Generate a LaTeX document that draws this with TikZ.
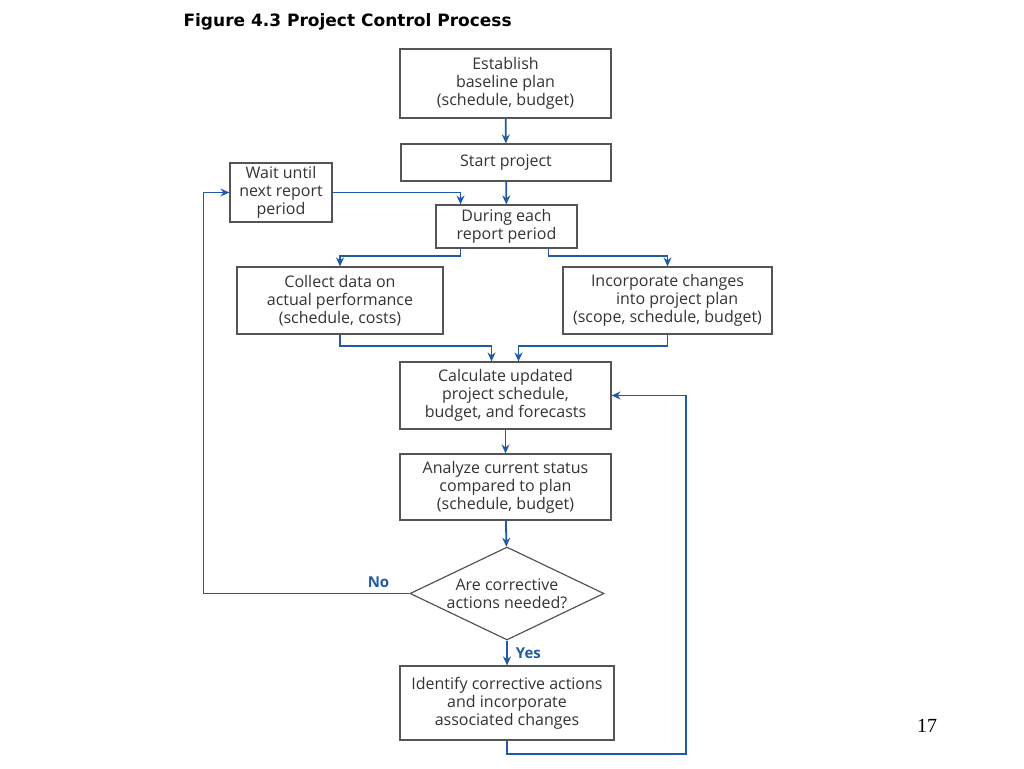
\documentclass[tikz,border=0pt]{standalone}
\usepackage{fontspec}
\setmainfont{Open Sans}
\newfontfamily\titlefont{DejaVu Sans}
\newfontfamily\numfont{Liberation Serif}
\usetikzlibrary{calc,shapes.geometric,arrows.meta}
\definecolor{flowblue}{HTML}{1F5AA6}
\definecolor{boxgray}{HTML}{555555}

\begin{document}
\begin{tikzpicture}[x=1pt, y=-1pt,
		box/.style={draw=boxgray, line width=1.2pt, rectangle, align=center, inner sep=0pt, text=black!80, font=\fontsize{16}{18}\selectfont},
		decision/.style={draw=boxgray, line width=1.2pt, diamond, aspect=2.09, align=center, inner sep=-10pt, text=black!80, font=\fontsize{16}{18}\selectfont},
		flow/.style={draw=flowblue, line width=1.8pt, -{Stealth[length=9pt, width=8pt]}},
		answer/.style={text=flowblue, font=\fontsize{15}{17}\selectfont\bfseries, inner sep=2pt}]
			%%%%% START %%%%%
			
			\useasboundingbox (0, 0) rectangle (1024, 768);
			
			\node[anchor=west] (title) at (180, 22) {\titlefont\fontsize{17}{20}\selectfont\bfseries Figure 4.3 Project Control Process};
			
			\node[box, minimum width=211, minimum height=69] (plan) at (505.5, 83.5) {Establish\\baseline plan\\(schedule, budget)};
			\node[box, minimum width=210, minimum height=37] (start) at (506, 162.5) {Start project};
			\node[box, minimum width=102, minimum height=59] (wait) at (281, 192.5) {Wait until\\next report\\period};
			\node[box, minimum width=141, minimum height=43] (during) at (506.5, 226.5) {During each\\report period};
			
			\node[box, minimum width=206, minimum height=67] (collect) at (340, 300.5) {Collect data on\\actual performance\\(schedule, costs)};
			\node[box, minimum width=209, minimum height=67] (incorp) at (667.5, 300.5) {Incorporate changes\\\hspace{1.2em}into project plan\\(scope, schedule, budget)};
			
			\node[box, minimum width=211, minimum height=67] (calc) at (505.5, 395.5) {Calculate updated\\project schedule,\\budget, and forecasts};
			\node[box, minimum width=211, minimum height=66] (analyze) at (505.5, 487) {Analyze current status\\compared to plan\\(schedule, budget)};
			\node[decision, minimum width=194, minimum height=93] (decide) at (507, 593.5) {Are corrective\\actions needed?};
			\node[box, minimum width=214, minimum height=74] (identify) at (507, 703) {Identify corrective actions\\and incorporate\\associated changes};
			
			\node (pagenum) at (927, 726) {\numfont\fontsize{20}{22}\selectfont 17};
			
			\draw[flow] (plan) -- (start);
			\draw[flow] (start) -- (during);
			\draw[flow] (wait.east) -| ($(during.north)+(-46, 0)$);
			
			\draw[flow] ($(during.south)+(-46, 0)$) -- ++(0, 7) -| (collect.north);
			\draw[flow] ($(during.south)+(42, 0)$) -- ++(0, 7) -| (incorp.north);
			\draw[flow] (collect.south) -- ++(0, 11) -| ($(calc.north)+(-14, 0)$);
			\draw[flow] (incorp.south) -- ++(0, 11) -| ($(calc.north)+(13, 0)$);
			
			\draw[flow] (calc) -- (analyze);
			\draw[flow] (analyze) -- (decide);
			\draw[flow] (decide) -- node[answer, right=6pt] {Yes} (identify);
			\draw[flow] (decide.west) -- node[answer, above=3pt, pos=0.15] {No} ++(-206, 0) |- (wait.west);
			\draw[flow] (identify.south) -- ++(0, 13) -| ($(calc.east)+(74, 0)$) -- (calc.east);
			
			%%%%% END %%%%%
		\end{tikzpicture}
\end{document}
